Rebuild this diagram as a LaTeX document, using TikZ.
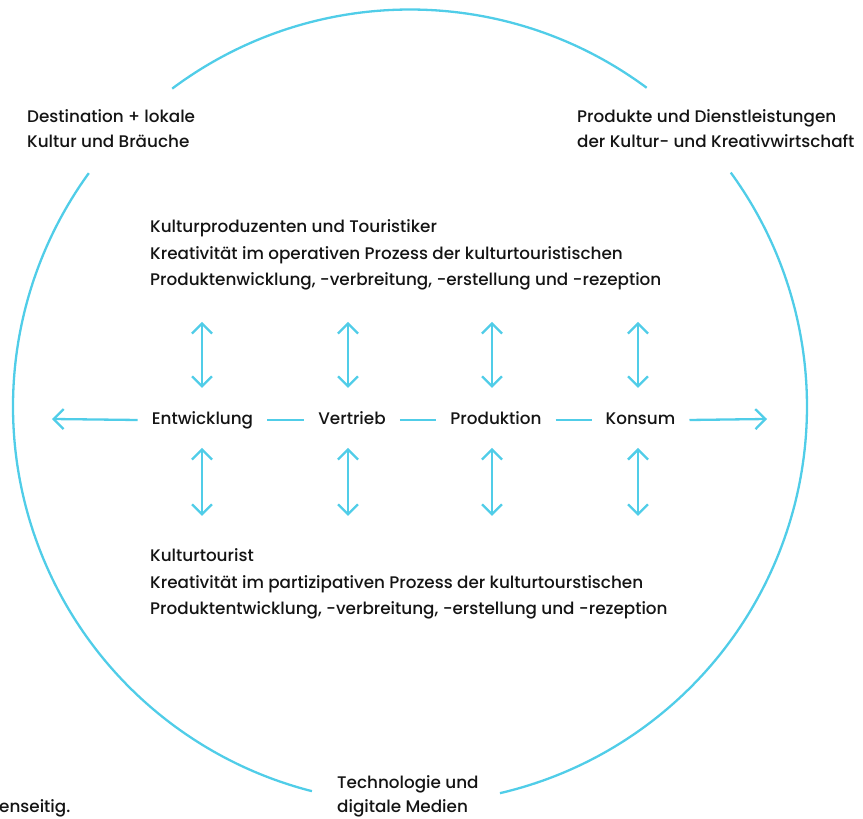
\documentclass[tikz,border=0pt]{standalone}
\usepackage{fontspec}
\setmainfont{Poppins Medium}
\usetikzlibrary{arrows.meta}
\definecolor{cy}{RGB}{80,205,232}
\definecolor{ink}{RGB}{20,20,20}
\begin{document}
\begin{tikzpicture}[x=1pt,y=1pt,
  lbl/.style={inner sep=0pt, anchor=base west, text=ink, font=\fontsize{16.8}{20}\selectfont},
  stage/.style={inner xsep=14pt, inner ysep=0pt, text height=12pt, text depth=3pt, anchor=base, text=ink, font=\fontsize{16.8}{20}\selectfont},
  ring/.style={draw=cy, line width=2.3pt},
  link/.style={draw=cy, line width=2.3pt},
  tip/.style={-{Straight Barb[length=10pt,width=20pt]}},
  dbl/.style={{Straight Barb[length=10pt,width=20pt]}-{Straight Barb[length=10pt,width=20pt]}}
]
\useasboundingbox (0,0) rectangle (863,819);

% outer ring (three arcs)
\draw[ring] ([shift={(53.4:397)}]410,412.5) arc[start angle=53.4,end angle=126.8,radius=397];
\draw[ring] ([shift={(144:397)}]410,412.5) arc[start angle=144,end angle=255.7,radius=397];
\draw[ring] ([shift={(283.1:397)}]410,412.5) arc[start angle=283.1,end angle=396.1,radius=397];

% corner labels
\node[lbl] (dest1) at (27,696) {Destination + lokale};
\node[lbl] (dest2) at (27,671) {Kultur und Bräuche};
\node[lbl] (prod1) at (577,696) {Produkte und Dienstleistungen};
\node[lbl] (prod2) at (577,671) {der Kultur- und Kreativwirtschaft};
\node[lbl] (tech1) at (337,30) {Technologie und};
\node[lbl] (tech2) at (337,6) {digitale Medien};
\node[lbl] (cut) at (-1,6) {enseitig.};

% top block
\node[lbl] (top1) at (150,586) {Kulturproduzenten und Touristiker};
\node[lbl] (top2) at (150,559) {Kreativität im operativen Prozess der kulturtouristischen};
\node[lbl] (top3) at (150,533) {Produktenwicklung, -verbreitung, -erstellung und -rezeption};

% bottom block
\node[lbl] (bot1) at (150,257) {Kulturtourist};
\node[lbl] (bot2) at (150,230) {Kreativität im partizipativen Prozess der kulturtourstischen};
\node[lbl] (bot3) at (150,204) {Produktentwicklung, -verbreitung, -erstellung und -rezeption};

% process row
\node[stage] (ent) at (202.5,394.5) {Entwicklung};
\node[stage] (ver) at (352,394.5) {Vertrieb};
\node[stage] (pro) at (496,394.5) {Produktion};
\node[stage] (kon) at (640.5,394.5) {Konsum};
\coordinate (lt) at (52,400);
\coordinate (rt) at (767,400);

\draw[link,tip] (ent.west) -- (lt);
\draw[link] (ent.east) -- (ver.west);
\draw[link] (ver.east) -- (pro.west);
\draw[link] (pro.east) -- (kon.west);
\draw[link,tip] (kon.east) -- (rt);

% vertical double arrows
\foreach \n/\x in {a/202,b/348,c/492,d/638}{
  \coordinate (\n up1) at (\x,497);
  \coordinate (\n up2) at (\x,431);
  \coordinate (\n dn1) at (\x,371);
  \coordinate (\n dn2) at (\x,303);
  \draw[link,dbl] (\n up1) -- (\n up2);
  \draw[link,dbl] (\n dn1) -- (\n dn2);
}
\end{tikzpicture}
\end{document}
